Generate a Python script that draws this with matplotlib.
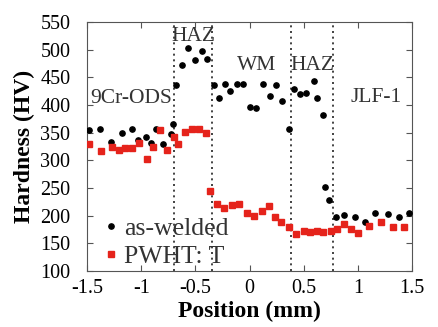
import matplotlib
matplotlib.use('Agg')
import matplotlib.pyplot as plt

# as-welded hardness profile
aw_pos = [-1.48, -1.38, -1.28, -1.18, -1.09, -1.03, -0.96, -0.91, -0.86, -0.80, -0.73, -0.71,
          -0.68, -0.62, -0.57, -0.50, -0.44, -0.39, -0.325, -0.28, -0.226, -0.18, -0.12, -0.057,
          0.00, 0.06, 0.12, 0.19, 0.245, 0.30, 0.365, 0.41, 0.466, 0.52, 0.59, 0.626, 0.675,
          0.697, 0.73, 0.80, 0.875, 0.974, 1.066, 1.159, 1.28, 1.38, 1.475]
aw_hv = [355, 357, 333, 350, 357, 337, 343, 332, 357, 330, 347, 365,
         436, 473, 502, 482, 498, 483, 436, 412, 438, 425, 438, 438,
         396, 395, 438, 417, 436, 407, 357, 428, 419, 422, 444, 412, 381,
         251, 228, 198, 202, 197, 189, 205, 203, 198, 205]

# PWHT hardness profile
pw_pos = [-1.48, -1.37, -1.27, -1.21, -1.15, -1.09, -1.02, -0.95, -0.89, -0.83, -0.76, -0.70,
          -0.66, -0.595, -0.534, -0.47, -0.40, -0.365, -0.30, -0.235, -0.165, -0.094,
          -0.02, 0.04, 0.11, 0.18, 0.235, 0.29, 0.365, 0.43, 0.497, 0.56, 0.626, 0.68, 0.75,
          0.81, 0.875, 0.937, 1.0, 1.097, 1.21, 1.32, 1.425]
pw_hv = [329, 316, 324, 319, 322, 323, 331, 303, 324, 355, 319, 342,
         329, 351, 356, 356, 349, 244, 221, 214, 219, 222,
         204, 200, 208, 218, 198, 189, 179, 167, 173, 171, 173, 171, 173,
         176, 185, 176, 168, 182, 188, 179, 179]

# zone boundaries and zone names
boundaries = [-0.70, -0.35, 0.38, 0.77]
zone_names = ['9Cr-ODS', 'HAZ', 'WM', 'HAZ', 'JLF-1']
zone_x = [-1.47, -0.52, 0.06, 0.58, 1.17]
zone_y = [412, 523, 472, 472, 414]
zone_ha = ['left', 'center', 'center', 'center', 'center']

plt.rcParams['font.family'] = ['Liberation Serif', 'DejaVu Serif']

fig = plt.figure(figsize=(4.38, 3.27), dpi=100)
ax = fig.add_axes([0.199, 0.171, 0.742, 0.762])

for b in boundaries:
    ax.axvline(b, color='#222222', linestyle=(0, (1.2, 2.2)), linewidth=1.2, zorder=1)

ax.plot(aw_pos, aw_hv, 'o', color='black', markersize=3.8, label='as-welded', zorder=3)
ax.plot(pw_pos, pw_hv, 's', color='#e5231b', markersize=3.8, label='PWHT: T', zorder=3)

for name, x, y, ha in zip(zone_names, zone_x, zone_y, zone_ha):
    ax.text(x, y, name, fontsize=15.5, color='#333333', ha=ha, va='center')

ax.set_xlim(-1.5, 1.5)
ax.set_ylim(100, 550)
ax.set_xticks([-1.5, -1, -0.5, 0, 0.5, 1, 1.5])
ax.set_xticklabels(['-1.5', '-1', '-0.5', '0', '0.5', '1', '1.5'])
ax.set_yticks(range(100, 551, 50))
ax.tick_params(direction='in', top=True, right=True, labelsize=14.5, length=4,
               color='#555555')
ax.tick_params(axis='y', pad=12)
ax.tick_params(axis='x', pad=6)
for s in ax.spines.values():
    s.set_color('#555555')

ax.set_xlabel('Position (mm)', fontsize=17, fontweight='bold', labelpad=2)
ax.set_ylabel('Hardness (HV)', fontsize=17, fontweight='bold', labelpad=4)

leg = ax.legend(loc='lower left', frameon=False, fontsize=18.5, handletextpad=0.0,
                borderaxespad=0.0, labelspacing=0.18, handlelength=1.0,
                borderpad=0.0, bbox_to_anchor=(0.035, 0.012))
for t in leg.get_texts():
    t.set_color('#333333')

fig.savefig('out.png', dpi=100)
